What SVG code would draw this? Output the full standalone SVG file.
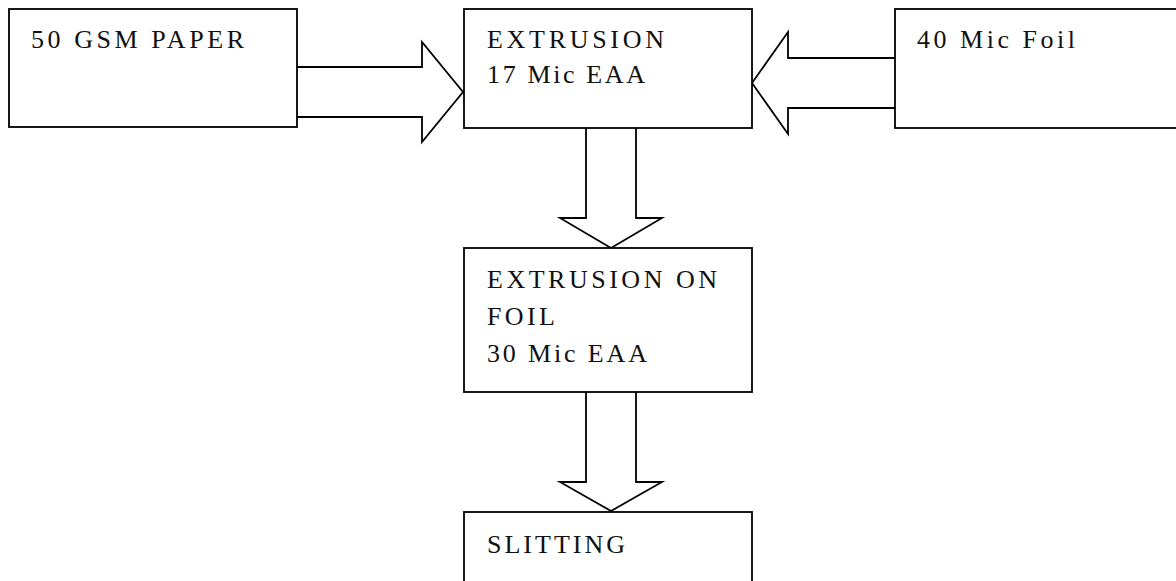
<svg xmlns="http://www.w3.org/2000/svg" width="1176" height="581" viewBox="0 0 1176 581">
  <style>
    .box { fill: #ffffff; stroke: #000000; stroke-width: 1.8; }
    .flow { fill: #ffffff; stroke: #000000; stroke-width: 1.8; stroke-linejoin: miter; }
    .lbl { font-family: "Liberation Serif", "Times New Roman", serif; font-size: 26px; fill: #111111; }
  </style>
  <rect width="1176" height="581" fill="#ffffff"/>

  <!-- block arrows between process steps -->
  <g id="connectors">
    <path class="flow" d="M297,67 H422 V42 L463,92 L422,142 V117 H297"/>
    <path class="flow" d="M895,58 H788 V32 L752,83 L788,134 V108 H895"/>
    <path class="flow" d="M586,128 V218 H560 L611,248 L662,218 H636 V128"/>
    <path class="flow" d="M586,392 V482 H560 L611,511 L662,482 H636 V392"/>
  </g>

  <g id="paper">
    <rect class="box" x="9" y="9" width="288" height="118"/>
    <text class="lbl" x="31" y="48" textLength="213" lengthAdjust="spacing">50 GSM PAPER</text>
  </g>

  <g id="extrusion">
    <rect class="box" x="464" y="9" width="288" height="119"/>
    <text class="lbl" x="487" y="48" textLength="177" lengthAdjust="spacing">EXTRUSION</text>
    <text class="lbl" x="487" y="83" textLength="158" lengthAdjust="spacing">17 Mic EAA</text>
  </g>

  <g id="foil">
    <rect class="box" x="895" y="9" width="300" height="119"/>
    <text class="lbl" x="917" y="48" textLength="158" lengthAdjust="spacing">40 Mic Foil</text>
  </g>

  <g id="extrusion-on-foil">
    <rect class="box" x="464" y="248" width="288" height="144"/>
    <text class="lbl" x="487" y="288" textLength="230" lengthAdjust="spacing">EXTRUSION ON</text>
    <text class="lbl" x="487" y="325" textLength="68" lengthAdjust="spacing">FOIL</text>
    <text class="lbl" x="487" y="362" textLength="160" lengthAdjust="spacing">30 Mic EAA</text>
  </g>

  <g id="slitting">
    <rect class="box" x="464" y="512" width="288" height="100"/>
    <text class="lbl" x="487" y="553" textLength="138" lengthAdjust="spacing">SLITTING</text>
  </g>
</svg>
